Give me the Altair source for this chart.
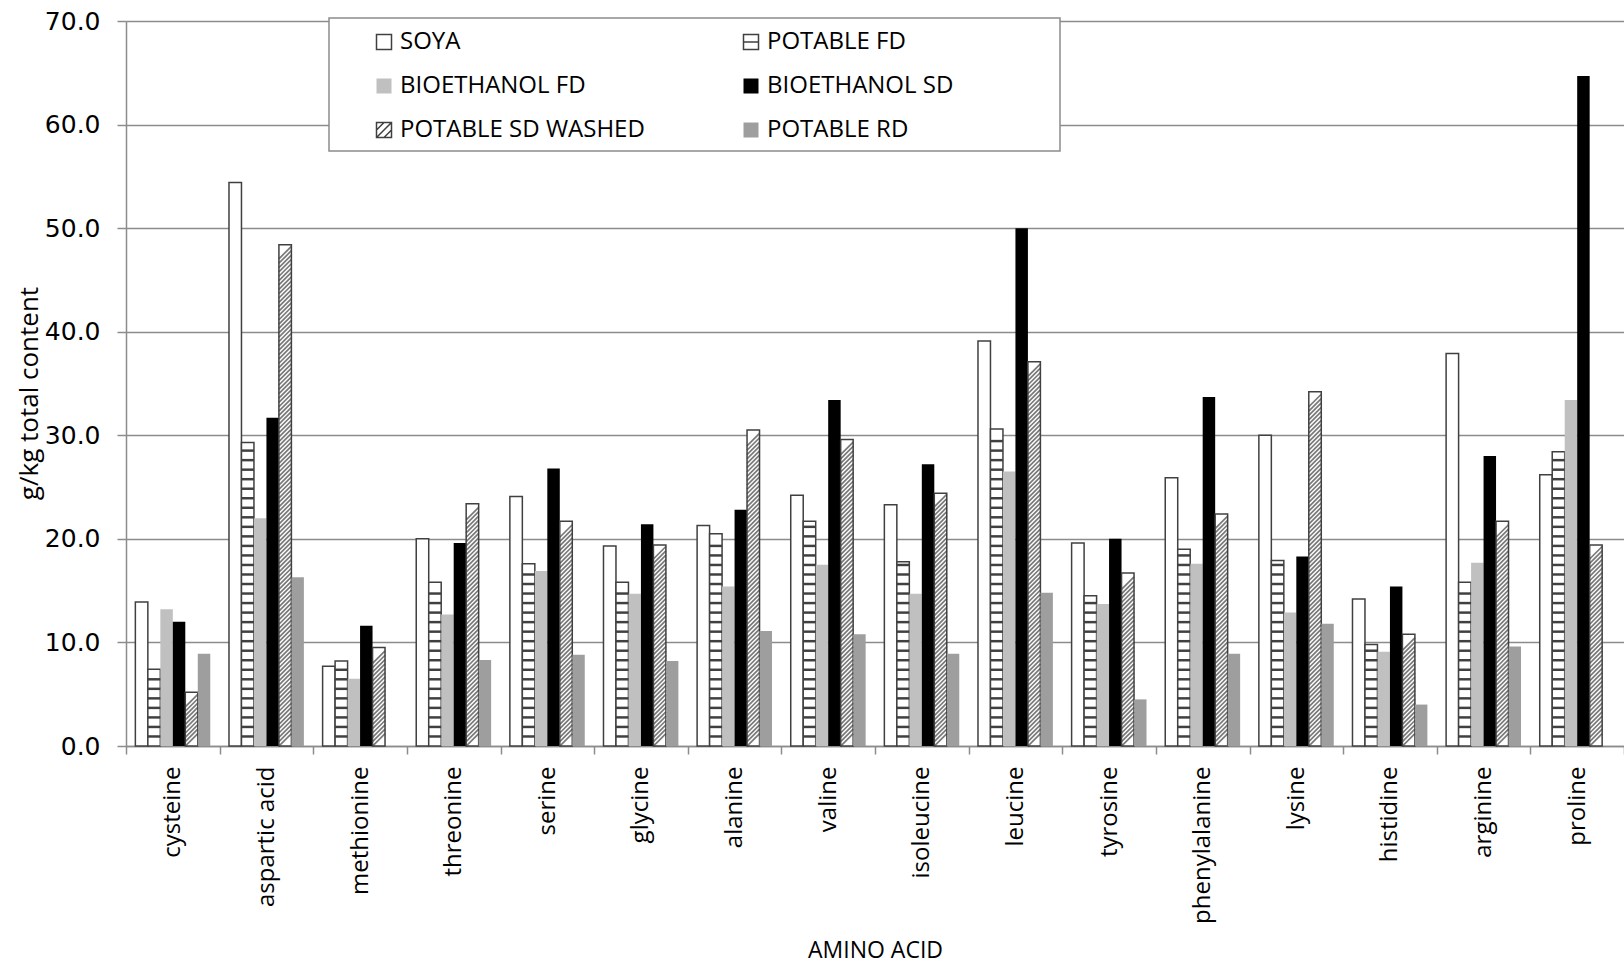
import altair as alt
import pandas as pd

# Amino acid profile (g/kg total content) per material
amino = ["cysteine", "aspartic acid", "methionine", "threonine", "serine", "glycine",
         "alanine", "valine", "isoleucine", "leucine", "tyrosine", "phenylalanine",
         "lysine", "histidine", "arginine", "proline"]

series = ["SOYA", "POTABLE FD", "BIOETHANOL FD", "BIOETHANOL SD", "POTABLE SD WASHED", "POTABLE RD"]

soya = [13.9, 54.4, 7.7, 20.0, 24.1, 19.3, 21.3, 24.2, 23.3, 39.1, 19.6, 25.9, 30.0, 14.2, 37.9, 26.2]
potable_fd = [7.4, 29.3, 8.2, 15.8, 17.6, 15.8, 20.5, 21.7, 17.8, 30.6, 14.5, 19.0, 17.9, 9.8, 15.8, 28.4]
bioethanol_fd = [13.2, 22.0, 6.5, 12.7, 16.9, 14.7, 15.4, 17.5, 14.7, 26.5, 13.7, 17.6, 12.9, 9.1, 17.7, 33.4]
bioethanol_sd = [12.0, 31.7, 11.6, 19.6, 26.8, 21.4, 22.8, 33.4, 27.2, 50.0, 20.0, 33.7, 18.3, 15.4, 28.0, 64.7]
potable_sd_washed = [5.2, 48.4, 9.5, 23.4, 21.7, 19.4, 30.5, 29.6, 24.4, 37.1, 16.7, 22.4, 34.2, 10.8, 21.7, 19.4]
potable_rd = [8.9, 16.3, 0.0, 8.3, 8.8, 8.2, 11.1, 10.8, 8.9, 14.8, 4.5, 8.9, 11.8, 4.0, 9.6, 0.0]

y_ticks = [0, 10, 20, 30, 40, 50, 60, 70]

all_values = [soya, potable_fd, bioethanol_fd, bioethanol_sd, potable_sd_washed, potable_rd]
df = pd.DataFrame([
    {"amino": a, "series": s, "value": v}
    for s, vals in zip(series, all_values)
    for a, v in zip(amino, vals)
])

# Horizontal rungs inside the POTABLE FD bars
RUNG_STEP, RUNG_THICK = 0.92, 0.24
rungs = []
for a, v in zip(amino, potable_fd):
    k = 1
    while k * RUNG_STEP + RUNG_THICK / 2 < v - 0.15:
        c = k * RUNG_STEP
        rungs.append({"amino": a, "series": "POTABLE FD", "lo": c - RUNG_THICK / 2, "hi": c + RUNG_THICK / 2})
        k += 1
rungs_df = pd.DataFrame(rungs)

# Diagonal hatch inside the POTABLE SD WASHED bars
HATCH_STEP, HATCH_HALF = 0.42, 0.6
hatch = []
for a, v in zip(amino, potable_sd_washed):
    c = HATCH_HALF
    while c <= v - HATCH_HALF + 1e-9:
        hatch.append({"amino": a, "series": "POTABLE SD WASHED", "c": c})
        c += HATCH_STEP
hatch_df = pd.DataFrame(hatch)

GRAY = "#8c8c8c"
INK = "#404040"
PLOT_W, PLOT_H = 1498, 725
OFFSET_PAD = 0.75  # outer padding of each six-bar group, in bar widths
SUB_W = PLOT_W / len(amino) / (len(series) + 2 * OFFSET_PAD)

fills = ["white", "white", "#c0c0c0", "black", "white", "#9e9e9e"]
strokes = [INK, INK, "transparent", "transparent", INK, "transparent"]
shapes = ["square",
          "M-1,-1H1V1H-1ZM-1,0H1",
          "square",
          "square",
          "M-1,-1H1V1H-1ZM-1,1L1,-1M-1,0L0,-1M0,1L1,0",
          "square"]

x_enc = alt.X(
    "amino:N", sort=amino,
    scale=alt.Scale(domain=amino, paddingInner=0, paddingOuter=0),
    axis=alt.Axis(
        title="AMINO ACID", titleFont="Open Sans", titleFontSize=23, titleFontWeight="normal",
        titleColor="black", titleY=211, titleBaseline="alphabetic",
        labelAngle=270, labelAlign="right", labelBaseline="middle",
        labelFont="Open Sans", labelFontSize=24, labelColor="black", labelPadding=12,
        tickSize=8, tickColor=GRAY, tickWidth=1.5, tickBand="extent",
        domainColor=GRAY, domainWidth=1.5, grid=False,
    ),
)
xoff_enc = alt.XOffset("series:N", sort=series,
                       scale=alt.Scale(domain=series, paddingInner=0, paddingOuter=OFFSET_PAD))


def y_enc(field):
    return alt.Y(
        field, type="quantitative",
        scale=alt.Scale(domain=[0, 70], nice=False),
        axis=alt.Axis(
            title="g/kg total content", titleFont="Open Sans", titleFontSize=26,
            titleFontWeight="normal", titleColor="black", titleAngle=270,
            titleX=-89, titleY=372, titleAlign="center", titleBaseline="alphabetic",
            values=y_ticks, format=".1f", labelFont="DejaVu Sans", labelFontSize=25,
            labelColor="black", labelPadding=17, tickSize=9, tickColor=GRAY, tickWidth=1.5,
            domainColor=GRAY, domainWidth=1.5, grid=True, gridColor=GRAY, gridWidth=1.5,
        ),
    )


legend = alt.Legend(
    title=None, orient="none", legendX=246, legendY=9, columns=2, direction="horizontal",
    columnPadding=94, rowPadding=20, padding=0,
    symbolSize=225, symbolStrokeWidth=1.5, symbolOpacity=1,
    labelFont="Open Sans", labelFontSize=24, labelColor="black", labelOffset=4,
    labelLimit=400,
)

fill_scale = alt.Scale(domain=series, range=fills)
stroke_scale = alt.Scale(domain=series, range=strokes)
shape_scale = alt.Scale(domain=series, range=shapes)

bars = alt.Chart(df).mark_bar(strokeWidth=1.5).encode(
    x=x_enc, xOffset=xoff_enc, y=y_enc("value"),
    fill=alt.Fill("series:N", scale=fill_scale, legend=legend),
    stroke=alt.Stroke("series:N", scale=stroke_scale, legend=legend),
)

rung_marks = alt.Chart(rungs_df).mark_bar(color=INK).encode(
    x=x_enc, xOffset=xoff_enc, y=y_enc("lo"), y2="hi",
)

hatch_marks = alt.Chart(hatch_df).mark_point(
    shape="M-1,1L1,-1", size=SUB_W ** 2, stroke=INK, strokeWidth=1.7, filled=False,
).encode(
    x=x_enc, xOffset=xoff_enc, y=y_enc("c"),
)

legend_box = alt.Chart(alt.Data(values=[{}])).mark_rect(
    fill="white", stroke=GRAY, strokeWidth=1.5,
).encode(
    x=alt.value(203), x2=alt.value(934), y=alt.value(-3), y2=alt.value(130),
)

legend_keys = alt.Chart(df).mark_point(opacity=0, filled=True, strokeWidth=1.5).encode(
    x=x_enc, y=y_enc("value"),
    fill=alt.Fill("series:N", scale=fill_scale, legend=legend),
    stroke=alt.Stroke("series:N", scale=stroke_scale, legend=legend),
    shape=alt.Shape("series:N", scale=shape_scale, legend=legend),
)

chart = alt.layer(bars, rung_marks, hatch_marks, legend_box, legend_keys).properties(
    width=PLOT_W, height=PLOT_H,
    padding={"left": 126, "top": 21, "right": 0, "bottom": 219},
    autosize=alt.AutoSizeParams(type="none"),
    background="white",
).configure_view(stroke=None)

chart.save("out.html", embed_options={"renderer": "svg", "actions": False})
